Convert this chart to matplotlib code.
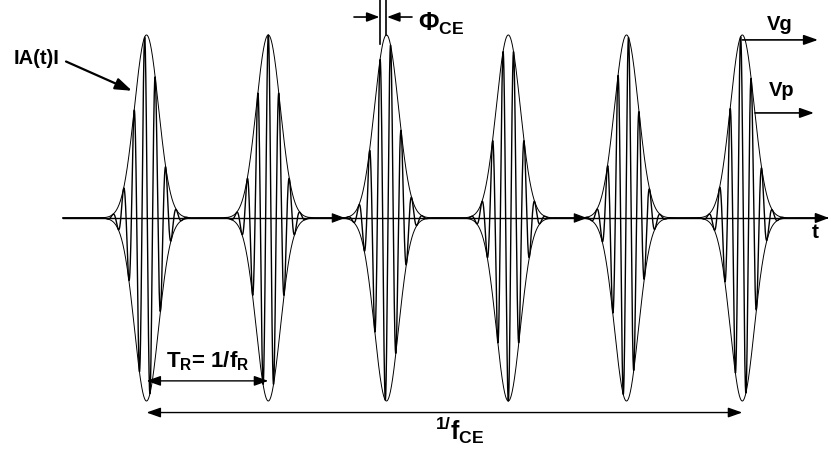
import numpy as np
import matplotlib
matplotlib.use("Agg")
import matplotlib.pyplot as plt

# fonts: bold Arial-like for all labels, mathtext in the same face
plt.rcParams["font.family"] = ["Liberation Sans", "DejaVu Sans"]
plt.rcParams["font.weight"] = "bold"
plt.rcParams["mathtext.fontset"] = "custom"
plt.rcParams["mathtext.rm"] = "Liberation Sans:bold"
plt.rcParams["mathtext.it"] = "Liberation Sans:bold"
plt.rcParams["mathtext.bf"] = "Liberation Sans:bold"
plt.rcParams["mathtext.sf"] = "Liberation Sans:bold"

# pulse train (time in arbitrary units, field amplitude normalised to 1)
pulse_centers = [146.5, 268.3, 386.5, 508.3, 626.5, 742.3]
ce_phases = [1.1, 0.0, 3.85, 3.14, -1.2, 1.0]  # carrier-envelope phase of each pulse
pulse_width = 12.0
carrier_period = 10.6
t_start = 63
t_end = 829

# small arrowheads drawn on the time axis
axis_arrow_tips = [345, 587]


def envelope(t):
    env = np.zeros_like(t)
    for c in pulse_centers:
        env += np.exp(-((t - c) ** 2) / (2 * pulse_width**2))
    return env


def field(t):
    e = np.zeros_like(t)
    for c, phi in zip(pulse_centers, ce_phases):
        g = np.exp(-((t - c) ** 2) / (2 * pulse_width**2))
        e += g * np.cos(2 * np.pi * (t - c) / carrier_period + phi)
    return e


def arrow(ax, x0, y0, x1, y1, style="-|>", hl=0.85, hw=0.3, lw=1.2):
    ax.annotate(
        "",
        xy=(x1, y1),
        xytext=(x0, y0),
        arrowprops=dict(
            arrowstyle=f"{style},head_length={hl},head_width={hw}",
            color="black",
            lw=lw,
            shrinkA=0,
            shrinkB=0,
            mutation_scale=10,
        ),
    )


def main():
    fig = plt.figure(figsize=(8.29, 4.55), dpi=100)
    ax = fig.add_axes([0, 0, 1, 1])
    ax.set_xlim(0, 829)
    ax.set_ylim(-1.295, 1.191)
    ax.axis("off")

    t = np.linspace(t_start, t_end, 20000)
    env = envelope(t)
    ax.plot(t, field(t), color="black", lw=1.0)
    ax.plot(t, env, color="black", lw=0.7)
    ax.plot(t, -env, color="black", lw=0.7)

    # time axis
    ax.plot([t_start, t_end - 8], [0, 0], color="black", lw=1.0)
    arrow(ax, t_end - 12, 0, t_end, 0, hl=0.8, hw=0.3)
    for tip in axis_arrow_tips:
        arrow(ax, tip - 12, 0, tip, 0, hl=0.8, hw=0.3, lw=0.8)
    ax.text(812, -0.109, "t", fontsize=15, ha="left", va="baseline")

    # |A(t)| label
    ax.text(37, 0.874, "IA(t)I", fontsize=14.5, ha="center", va="center")
    arrow(ax, 66, 0.855, 132, 0.695, hl=1.0, hw=0.35, lw=1.6)

    # carrier-envelope phase marker on the third pulse
    c3 = pulse_centers[2]
    peak3 = c3 - ce_phases[2] * carrier_period / (2 * np.pi)
    ax.plot([peak3, peak3], [0.95, 1.191], color="black", lw=1.2)
    ax.plot([c3, c3], [1.0, 1.191], color="black", lw=1.2)
    arrow(ax, 354, 1.098, peak3 - 0.5, 1.098, hl=0.75, hw=0.28)
    arrow(ax, 412, 1.098, c3 + 0.5, 1.098, hl=0.75, hw=0.28)
    ax.text(418, 1.022, r"$\Phi_{CE}$", fontsize=18, ha="left", va="baseline")

    # group and phase velocity
    c6 = pulse_centers[-1]
    arrow(ax, c6, 0.973, 818, 0.973, hl=0.85, hw=0.3)
    ax.text(767, 1.027, "Vg", fontsize=14.5, ha="left", va="baseline")
    arrow(ax, 755, 0.574, 814, 0.574, hl=0.85, hw=0.3)
    ax.text(769, 0.667, "Vp", fontsize=14.5, ha="left", va="baseline")

    # repetition period
    arrow(ax, pulse_centers[0], -0.89, pulse_centers[1], -0.89,
          style="<|-|>", hl=0.85, hw=0.3, lw=1.0)
    ax.text(166, -0.814, r"$T_R$= 1/f$_R$", fontsize=16, ha="left", va="baseline")

    # carrier-envelope offset period
    arrow(ax, pulse_centers[0], -1.063, pulse_centers[-1], -1.063,
          style="<|-|>", hl=0.85, hw=0.3, lw=1.0)
    ax.text(460, -1.213, r"${}^{1/}f_{CE}$", fontsize=18, ha="center", va="baseline")

    fig.savefig("out.png", dpi=100, facecolor="white")


if __name__ == "__main__":
    main()
